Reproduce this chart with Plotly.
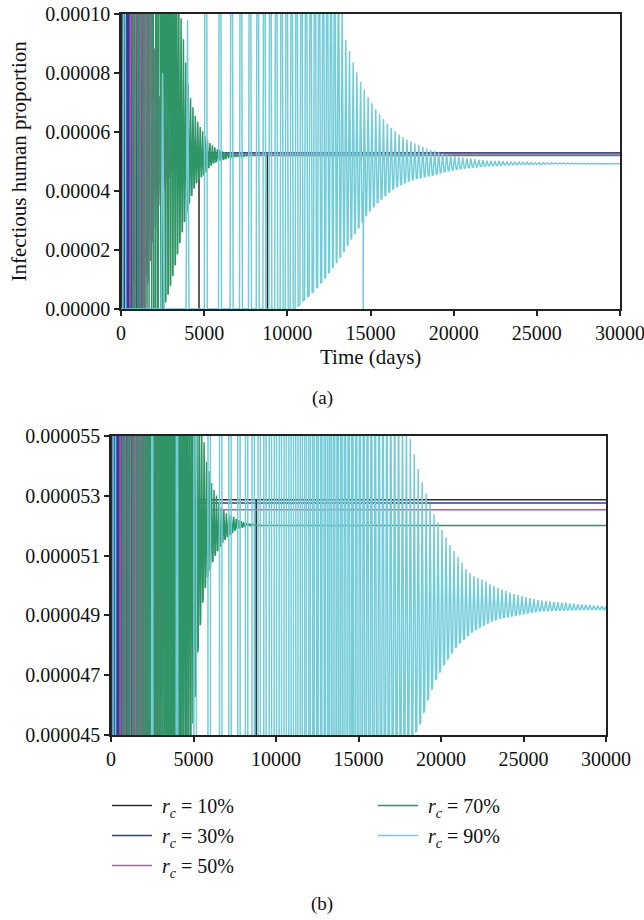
import numpy as np
import plotly.graph_objects as go

T_END = 30000
NB = "\u00a0"
LABELS = [NB + "<i>r<sub>c</sub></i> = 10%", NB + "<i>r<sub>c</sub></i> = 30%", NB + "<i>r<sub>c</sub></i> = 50%",
          NB + "<i>r<sub>c</sub></i> = 70%", NB + "<i>r<sub>c</sub></i> = 90%"]
COLORS = ["#2b2b2b", "#2d3f9b", "#bb55a4", "#2f9566", "#74ccd9"]

# ---- r_c = 10% (black) ----
blk_first_peak = 40
blk_per_t = [0, 1200]
blk_per_v = [60, 60]
blk_env_t = [0, 600, 800, 1000, 1200]
blk_hi = [3e-4, 3e-4, 1.2e-4, 6.0e-5, 5.287e-5]
blk_lo = [0.0, 0.0, 1.5e-5, 4.6e-5, 5.287e-5]
blk_dips = [4690, 8800]

# ---- r_c = 30% (blue) ----
blu_first_peak = 150
blu_per_t = [150, 800, 1500, 2500]
blu_per_v = [80, 120, 180, 200]
blu_env_t = [0, 1300, 1700, 2100, 2500]
blu_hi = [3e-4, 3e-4, 8.0e-5, 5.6e-5, 5.276e-5]
blu_lo = [0.0, 0.0, 2.5e-5, 4.8e-5, 5.276e-5]
blu_dips = []

# ---- r_c = 50% (pink) ----
pnk_first_peak = 600
pnk_per_t = [600, 2000, 3500]
pnk_per_v = [160, 150, 130]
pnk_env_t = [0, 1450, 1700, 1850, 1950, 2300, 2800, 3300, 4000, 4600]
pnk_hi = [3e-4, 3e-4, 3e-4, 3e-4, 9.1e-5, 7.2e-5, 6.0e-5, 5.5e-5, 5.3e-5, 5.253e-5]
pnk_lo = [0.0, 0.0, 1.4e-5, 2.0e-5, 2.45e-5, 3.4e-5, 4.3e-5, 4.9e-5, 5.2e-5, 5.253e-5]
pnk_dips = []

# ---- r_c = 70% (green) ----
grn_first_peak = 750
grn_per_t = [750, 1600, 2200, 3000, 6000, 9000]
grn_per_v = [300, 280, 160, 140, 150, 150]
grn_env_t = [0, 2545, 2845, 3000, 3145, 3445, 3500, 3650, 3745, 3790, 3900, 4046, 4110, 4250,
             4346, 4510, 4750, 4890, 4990, 5090, 5190, 5250, 5393, 5550, 5596, 5800, 6000,
             6100, 6302, 6405, 6605, 6708, 7010, 7414, 7615, 8020, 8220, 8830, 9200]
grn_hi = [3e-4, 3e-4, 3e-4, 2e-4, 1.8e-4, 1.2e-4, 1.05e-4, 9.63e-5, 9.2e-5, 8.89e-5, 8.33e-5, 7.6e-5, 7.31e-5, 6.98e-5,
          6.8e-5, 6.47e-5, 6.18e-5, 6.05e-5, 5.9e-5, 5.82e-5, 5.72e-5, 5.67e-5, 5.6e-5, 5.52e-5, 5.5e-5, 5.41e-5, 5.37e-5,
          5.34e-5, 5.31e-5, 5.30e-5, 5.27e-5, 5.26e-5, 5.24e-5, 5.23e-5, 5.222e-5, 5.212e-5, 5.208e-5, 5.202e-5, 5.201e-5]
grn_lo = [0.0, 0.0, 5.3e-6, 8.6e-6, 1.21e-5, 2.0e-5, 2.15e-5, 2.55e-5, 2.79e-5, 2.9e-5, 3.15e-5, 3.47e-5, 3.6e-5, 3.85e-5,
          4.03e-5, 4.25e-5, 4.45e-5, 4.5e-5, 4.55e-5, 4.6e-5, 4.72e-5, 4.77e-5, 4.86e-5, 4.94e-5, 4.96e-5, 5.02e-5, 5.05e-5,
          5.07e-5, 5.10e-5, 5.11e-5, 5.13e-5, 5.14e-5, 5.16e-5, 5.18e-5, 5.19e-5, 5.196e-5, 5.199e-5, 5.201e-5, 5.201e-5]
grn_dips = []

# ---- r_c = 90% (cyan) ----
cyn_first_peak = 200
cyn_per_t = [200, 2500, 4000, 5100, 5950, 6650, 7200, 7750, 8200, 8600, 9000, 9700, 10600, 11700, 12600, 13500, 16000, 20000, 30000]
cyn_per_v = [2300, 1500, 1100, 850, 700, 560, 545, 466, 400, 363, 350, 303, 290, 250, 225, 220, 235, 242, 242]
cyn_env_t = [0, 2500, 4000, 5000, 10500, 11000, 11600, 12200, 12800, 13366, 13868, 14348, 14830, 15311, 15792,
             16273, 16754, 17235, 17716, 18182, 18667, 18828, 19151, 19636, 20121, 20600, 20990, 21576, 22020,
             22500, 23000, 23515, 24500, 25939, 28848, 30000]
cyn_hi = [3e-4, 8.0e-5, 9.8e-5, 3e-4, 2.2e-4, 2.1e-4, 1.95e-4, 1.8e-4, 1.6e-4, 9.4e-5, 8.5e-5, 7.76e-5, 7.2e-5, 6.77e-5, 6.43e-5,
          6.12e-5, 5.9e-5, 5.73e-5, 5.6e-5, 5.48e-5, 5.38e-5, 5.35e-5, 5.30e-5, 5.23e-5, 5.18e-5, 5.13e-5, 5.1e-5, 5.05e-5, 5.03e-5,
          5.02e-5, 5.005e-5, 4.99e-5, 4.97e-5, 4.95e-5, 4.935e-5, 4.93e-5]
cyn_lo = [0.0, 0.0, 0.0, 0.0, 0.0, 3.0e-6, 6.0e-6, 1.0e-5, 1.45e-5, 1.9e-5, 2.4e-5, 2.79e-5, 3.25e-5, 3.53e-5, 3.8e-5,
          4.03e-5, 4.2e-5, 4.33e-5, 4.42e-5, 4.48e-5, 4.53e-5, 4.55e-5, 4.61e-5, 4.68e-5, 4.73e-5, 4.77e-5, 4.8e-5, 4.83e-5, 4.85e-5,
          4.865e-5, 4.88e-5, 4.89e-5, 4.90e-5, 4.915e-5, 4.92e-5, 4.92e-5]
cyn_dips = [14560, 14600]

SERIES = [
    (blk_first_peak, blk_per_t, blk_per_v, blk_env_t, blk_hi, blk_lo, 25, blk_dips),
    (blu_first_peak, blu_per_t, blu_per_v, blu_env_t, blu_hi, blu_lo, 40, blu_dips),
    (pnk_first_peak, pnk_per_t, pnk_per_v, pnk_env_t, pnk_hi, pnk_lo, 60, pnk_dips),
    (grn_first_peak, grn_per_t, grn_per_v, grn_env_t, grn_hi, grn_lo, 60, grn_dips),
    (cyn_first_peak, cyn_per_t, cyn_per_v, cyn_env_t, cyn_hi, cyn_lo, 90, cyn_dips),
]


def build(first_peak, per_t, per_v, env_t, hi_v, lo_v, w_max, dips):
    hi = lambda t: float(np.interp(t, env_t, hi_v))
    lo = lambda t: float(np.interp(t, env_t, lo_v))
    per = lambda t: float(np.interp(t, per_t, per_v))
    t_stop = env_t[-1]
    pts = [(0.0, lo(0.0))]
    tp = first_peak
    while tp < t_stop:
        w = min(w_max, 0.45 * per(tp))
        pts += [(tp - w, lo(tp - w)), (tp, hi(tp)), (tp + w, lo(tp + w))]
        tp += per(tp)
    pts += [(t_stop, lo(t_stop)), (T_END, lo(T_END))]
    xs = np.array([p[0] for p in pts])
    ys = np.array([p[1] for p in pts])
    extra = []
    for td in dips:
        v = float(np.interp(td, xs, ys))
        extra += [(td, v), (td, 0.0), (td, v)]
    allp = sorted(pts + extra, key=lambda p: p[0])
    return [p[0] for p in allp], [p[1] for p in allp]


FONT = '"Liberation Serif", "Times New Roman", "DejaVu Serif", serif'
fig = go.Figure()
for i, s in enumerate(SERIES):
    x, y = build(*s)
    fig.add_trace(go.Scatter(x=x, y=y, mode="lines", line=dict(color=COLORS[i], width=1.5),
                             xaxis="x", yaxis="y", showlegend=False, hoverinfo="skip"))
for i, s in enumerate(SERIES):
    x, y = build(*s)
    fig.add_trace(go.Scatter(x=x, y=y, mode="lines", line=dict(color=COLORS[i], width=1.5),
                             xaxis="x2", yaxis="y2", name=LABELS[i], legendgroup="g%d" % i,
                             legend="legend" if i < 3 else "legend2", hoverinfo="skip"))

W, H = 644, 920
ax_common = dict(showline=True, linecolor="#222", linewidth=1.5, mirror=True, ticks="outside",
                 ticklen=5, tickwidth=1.5, tickcolor="#222", showgrid=False, zeroline=False,
                 automargin=False, ticklabeloverflow="allow",
                 tickfont=dict(family=FONT, size=20, color="#111"))
leg_common = dict(xanchor="left", yanchor="top", bgcolor="rgba(0,0,0,0)", tracegroupgap=1,
                  font=dict(family=FONT, size=20, color="#111"), itemwidth=40)
fig.update_layout(
    width=W, height=H, margin=dict(l=0, r=0, t=0, b=0, autoexpand=False),
    paper_bgcolor="white", plot_bgcolor="white",
    font=dict(family=FONT, size=20, color="#111"),
    xaxis=dict(domain=[121 / W, 620 / W], range=[0, T_END], tick0=0, dtick=5000, tickformat="d",
               anchor="y", **ax_common),
    yaxis=dict(domain=[1 - 309 / H, 1 - 14 / H], range=[0, 0.0001], tick0=0, dtick=0.00002,
               tickformat=".5f", anchor="x", **ax_common),
    xaxis2=dict(domain=[111 / W, 606 / W], range=[0, T_END], tick0=0, dtick=5000, tickformat="d",
                anchor="y2", **ax_common),
    yaxis2=dict(domain=[1 - 735 / H, 1 - 436 / H], range=[0.000045, 0.000055], tick0=0.000045,
                dtick=0.000002, tickformat=".6f", anchor="x2", **ax_common),
    legend=dict(x=107 / W, y=1 - 786 / H, **leg_common),
    legend2=dict(x=373 / W, y=1 - 786 / H, **leg_common),
    annotations=[
        dict(text="Time (days)", x=370 / W, y=1 - 357 / H, xref="paper", yref="paper",
             showarrow=False, font=dict(family=FONT, size=21), xanchor="center", yanchor="middle"),
        dict(text="Infectious human proportion", x=18 / W, y=1 - 161.5 / H, xref="paper", yref="paper",
             showarrow=False, textangle=-90, font=dict(family=FONT, size=21), xanchor="center", yanchor="middle"),
        dict(text="(a)", x=322 / W, y=1 - 398 / H, xref="paper", yref="paper",
             showarrow=False, font=dict(family=FONT, size=19), xanchor="center", yanchor="middle"),
        dict(text="(b)", x=322 / W, y=1 - 904 / H, xref="paper", yref="paper",
             showarrow=False, font=dict(family=FONT, size=19), xanchor="center", yanchor="middle"),
    ],
)
fig.write_html("out.html")
